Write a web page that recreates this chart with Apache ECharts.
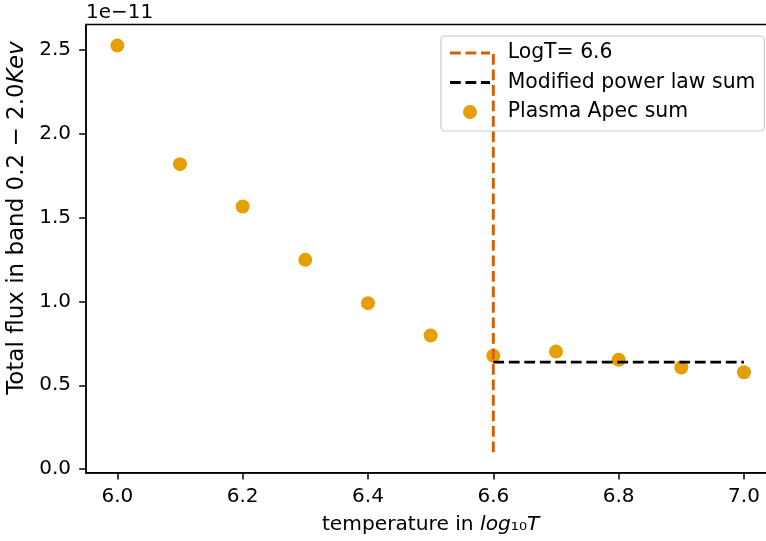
<!DOCTYPE html>
<html><head><meta charset="utf-8">
<script src="https://cdn.jsdelivr.net/npm/echarts@6/dist/echarts.min.js"></script>
<style>html,body{margin:0;padding:0;background:#fff}#c{width:766px;height:541px}</style>
</head><body><div id="c"></div>
<script>
// Data (flux in units of 1e-11)
const temps = [6.0, 6.1, 6.2, 6.3, 6.4, 6.5, 6.6, 6.7, 6.8, 6.9, 7.0];
const apecFlux = [2.526, 1.819, 1.566, 1.248, 0.990, 0.797, 0.676, 0.701, 0.652, 0.606, 0.578];
const powerLawT = [6.6, 7.0];
const powerLawFlux = [0.638, 0.638];
const cutT = [6.6, 6.6];
const cutFlux = [0.1, 2.5];
const xTicks = [6.0, 6.2, 6.4, 6.6, 6.8, 7.0];
const yTicks = [0, 0.5, 1.0, 1.5, 2.0, 2.5];
const scaleText = '1e\u221211';
const names = ['LogT= 6.6', 'Modified power law sum', 'Plasma Apec sum'];

const FONT = '"DejaVu Sans", sans-serif';
const FS = 20;
const chart = echarts.init(document.getElementById('c'), null, {renderer: 'canvas'});
const pair = (xs, ys) => xs.map((x, i) => [x, ys[i]]);
const dashIcon = 'path://M0,0h10.8v2.9h-10.8z M15.5,0h10.8v2.9h-10.8z M31,0h9v2.9h-9z';

chart.setOption({
  animation: false,
  backgroundColor: '#fff',
  textStyle: {fontFamily: FONT},
  title: {
    text: scaleText, left: 86, top: 3, padding: 0,
    textStyle: {fontFamily: FONT, fontSize: FS, fontWeight: 'normal', color: '#000'}
  },
  grid: {
    left: 86, top: 24.5, right: -9.3, bottom: 68.3,
    containLabel: false, outerBoundsMode: 'none',
    show: true, borderColor: '#000', borderWidth: 1.5, backgroundColor: 'transparent'
  },
  legend: {
    orient: 'vertical', left: 441, top: 36,
    padding: [7, 9, 9, 9],
    itemWidth: 40, itemHeight: 14, itemGap: 9.5,
    backgroundColor: 'rgba(255,255,255,0.8)',
    borderColor: '#cccccc', borderWidth: 1.2, borderRadius: 4,
    textStyle: {fontFamily: FONT, fontSize: 20.4, color: '#000', lineHeight: 20, padding: [0, 0, 0, 12.7]},
    itemStyle: {borderWidth: 0},
    data: [
      {name: names[0], icon: dashIcon},
      {name: names[1], icon: dashIcon},
      {name: names[2], icon: 'circle'}
    ]
  },
  xAxis: {
    type: 'value', min: 5.95, max: 7.05,
    name: 'temperature in {i|log}{s|₁₀}{i|T}',
    nameLocation: 'middle', nameGap: 42,
    nameTextStyle: {fontFamily: FONT, fontSize: 20.2, color: '#000',
      rich: {i: {fontStyle: 'italic', fontSize: 20.2, fontFamily: FONT}, s: {fontSize: 20.2, fontFamily: FONT}}},
    splitLine: {show: false},
    axisLine: {show: true, onZero: false, lineStyle: {color: '#000', width: 1.5}},
    axisTick: {show: true, length: 6.8, lineStyle: {color: '#000', width: 1.5}, customValues: xTicks},
    axisLabel: {customValues: xTicks, fontFamily: FONT, fontSize: FS, color: '#000', margin: 14,
      formatter: v => v.toFixed(1)}
  },
  yAxis: {
    type: 'value', min: -0.0215, max: 2.652,
    name: 'Total flux in band 0.2 \u2212 2.0{i|Kev}',
    nameLocation: 'middle', nameGap: 51, nameRotate: 90,
    nameTextStyle: {fontFamily: FONT, fontSize: 23, color: '#000', padding: [0, 0, 0, 61],
      rich: {i: {fontStyle: 'italic', fontSize: 23, fontFamily: FONT}}},
    splitLine: {show: false},
    axisLine: {show: true, onZero: false, lineStyle: {color: '#000', width: 1.5}},
    axisTick: {show: true, length: 6.8, lineStyle: {color: '#000', width: 1.5}, customValues: yTicks},
    axisLabel: {customValues: yTicks, fontFamily: FONT, fontSize: FS, color: '#000', margin: 15,
      formatter: v => v.toFixed(1)}
  },
  series: [
    {
      name: names[0], type: 'line', data: pair(cutT, cutFlux), symbol: 'none', z: 4,
      itemStyle: {color: '#D55E00'},
      lineStyle: {color: '#D55E00', width: 2.9, type: [10.8, 4.7]}
    },
    {
      name: names[1], type: 'line', data: pair(powerLawT, powerLawFlux), symbol: 'none', z: 4,
      itemStyle: {color: '#000'},
      lineStyle: {color: '#000', width: 2.9, type: [10.8, 4.7]}
    },
    {
      name: names[2], type: 'scatter', data: pair(temps, apecFlux), symbolSize: 14, z: 2,
      itemStyle: {color: '#E69F00', opacity: 1}
    }
  ]
});
</script></body></html>
